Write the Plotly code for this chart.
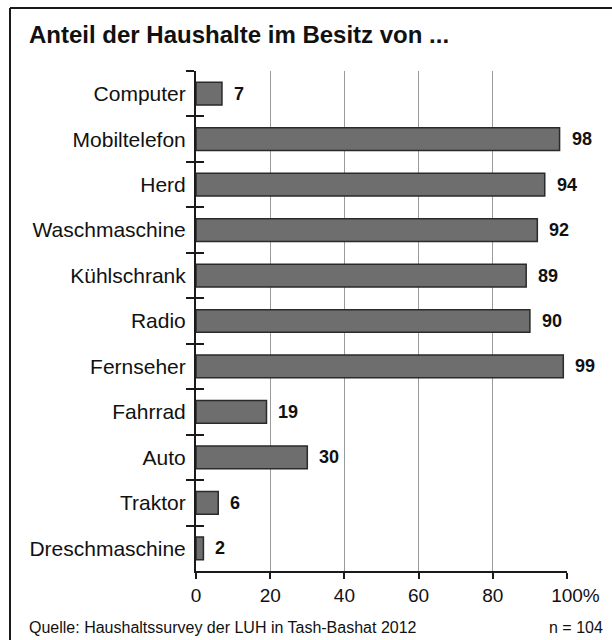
import plotly.graph_objects as go

# Household ownership shares (percent), n = 104
categories = ["Computer", "Mobiltelefon", "Herd", "Waschmaschine", "Kühlschrank",
              "Radio", "Fernseher", "Fahrrad", "Auto", "Traktor", "Dreschmaschine"]
shares = [7, 98, 94, 92, 89, 90, 99, 19, 30, 6, 2]
x_ticks = [0, 20, 40, 60, 80, 100]
x_tick_labels = ["0", "20", "40", "60", "80", "100%"]

title_text = "Anteil der Haushalte im Besitz von ..."
source_text = "Quelle: Haushaltssurvey der LUH in Tash-Bashat 2012"
sample_text = "n = 104"

FONT = "Liberation Sans, Arial, Helvetica, sans-serif"
W, H = 612, 640
L, R, T, B = 196, 43, 71, 69
plot_w = W - L - R
plot_h = H - T - B


def px_x(px):
    return (px - L) / plot_w


def px_y(py):
    return (H - B - py) / plot_h


def tick_text(label):
    # keep the number centred on its tick and let a trailing "%" hang to the right
    if label.endswith("%"):
        return "<span style='color:rgba(0,0,0,0)'>%</span>" + label
    return label


fig = go.Figure()

fig.add_trace(go.Bar(
    x=shares, y=categories, orientation="h",
    width=0.5,
    marker=dict(color="#6e6e6e", line=dict(color="#2a2a2a", width=1.5)),
    hoverinfo="skip", showlegend=False,
))

# helper trace carrying the inner half of the category boundary ticks
fig.add_trace(go.Scatter(
    x=[0] * len(categories), y=categories, yaxis="y2",
    mode="markers", marker=dict(size=0.1, opacity=0),
    hoverinfo="skip", showlegend=False,
))

# value labels next to each bar
for cat, val in zip(categories, shares):
    fig.add_annotation(
        x=val, y=cat, xref="x", yref="y", text=f"<b>{val}</b>",
        showarrow=False, xanchor="left", yanchor="middle", xshift=10,
        font=dict(family=FONT, size=18, color="#111111"),
    )

# title and footer
fig.add_annotation(
    x=px_x(26), y=px_y(35), xref="paper", yref="paper",
    text=f"<b>{title_text}</b>", showarrow=False,
    xanchor="left", yanchor="middle",
    font=dict(family=FONT, size=24, color="#111111"),
)
fig.add_annotation(
    x=px_x(26), y=px_y(627), xref="paper", yref="paper",
    text=source_text, showarrow=False,
    xanchor="left", yanchor="middle",
    font=dict(family=FONT, size=16, color="#111111"),
)
fig.add_annotation(
    x=px_x(607), y=px_y(627), xref="paper", yref="paper",
    text=sample_text, showarrow=False,
    xanchor="right", yanchor="middle",
    font=dict(family=FONT, size=16, color="#111111"),
)

# outer frame: top and left edges
frame_line = dict(color="#1a1a1a", width=2)
fig.add_shape(type="line", xref="paper", yref="paper",
              x0=px_x(9), x1=px_x(W + 10), y0=px_y(8), y1=px_y(8),
              line=frame_line, layer="below")
fig.add_shape(type="line", xref="paper", yref="paper",
              x0=px_x(9), x1=px_x(9), y0=px_y(8), y1=px_y(H + 10),
              line=frame_line, layer="below")

cat_range = [len(categories) - 0.5, -0.5]

fig.update_layout(
    width=W, height=H,
    margin=dict(l=L, r=R, t=T, b=B, pad=0),
    paper_bgcolor="white", plot_bgcolor="white",
    font=dict(family=FONT, color="#111111"),
    bargap=0.5,
    xaxis=dict(
        range=[0, 100], tickvals=x_ticks,
        ticktext=[tick_text(t) for t in x_tick_labels],
        showgrid=True, gridcolor="#9a9a9a", gridwidth=1,
        zeroline=False, showline=True, linecolor="#1a1a1a", linewidth=2,
        ticks="outside", ticklen=6, tickwidth=2, tickcolor="#1a1a1a",
        tickfont=dict(family=FONT, size=19, color="#111111"),
        fixedrange=True,
    ),
    yaxis=dict(
        type="category", categoryorder="array", categoryarray=categories,
        range=cat_range, showgrid=False, zeroline=False,
        showline=True, linecolor="#1a1a1a", linewidth=2,
        ticks="outside", tickson="boundaries", ticklen=8, tickwidth=2,
        tickcolor="#1a1a1a",
        tickfont=dict(family=FONT, size=21, color="#111111"),
        ticklabelstandoff=4,
        fixedrange=True,
    ),
    yaxis2=dict(
        type="category", categoryorder="array", categoryarray=categories,
        range=cat_range, overlaying="y", side="left",
        showgrid=False, zeroline=False, showline=False,
        ticks="inside", tickson="boundaries", ticklen=8, tickwidth=2,
        tickcolor="#1a1a1a", showticklabels=False,
        fixedrange=True,
    ),
)

fig.write_html("out.html")
